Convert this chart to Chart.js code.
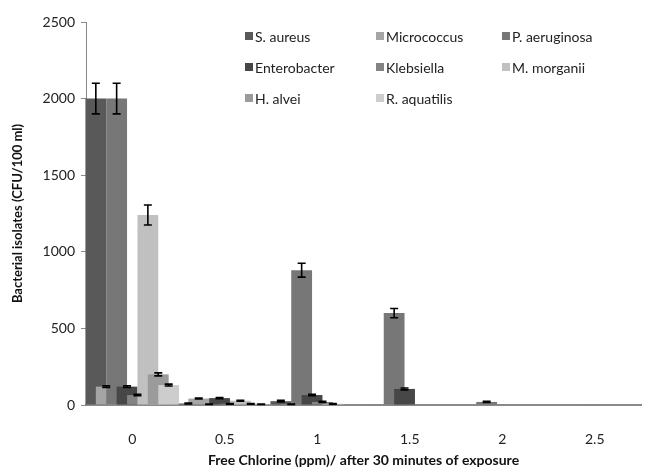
<!DOCTYPE html>
<html>
<head>
<meta charset="utf-8">
<script src="https://cdn.jsdelivr.net/npm/chart.js@4.4.0/dist/chart.umd.min.js"></script>
<style>
  html, body { margin: 0; padding: 0; background: #fff; }
  #wrap { width: 645px; height: 469px; }
</style>
</head>
<body>
<div id="wrap"><canvas id="canvas"></canvas></div>
<script>
// chlorine dose categories (ppm)
var doses = ['0', '0.5', '1', '1.5', '2', '2.5'];

var seriesNames = ['S. aureus', 'Micrococcus', 'P. aeruginosa', 'Enterobacter',
                   'Klebsiella', 'M. morganii', 'H. alvei', 'R. aquatilis'];

// CFU/100 ml
var sAureus      = [2000, 10, 25, 3, 0, 0];
var micrococcus  = [120, 42, 5, 0, 0, 0];
var pAeruginosa  = [2000, 5, 880, 600, 20, 0];
var enterobacter = [120, 45, 65, 105, 3, 3];
var klebsiella   = [65, 8, 20, 0, 0, 0];
var mMorganii    = [1240, 28, 8, 0, 0, 0];
var hAlvei       = [200, 8, 0, 0, 0, 0];
var rAquatilis   = [130, 5, 0, 0, 0, 0];

// +/- error
var errSAureus      = [100, 3, 5, 0, 0, 0];
var errMicrococcus  = [6, 3, 2, 0, 0, 0];
var errPAeruginosa  = [100, 2, 45, 30, 4, 0];
var errEnterobacter = [6, 4, 5, 6, 0, 0];
var errKlebsiella   = [5, 2, 4, 0, 0, 0];
var errMMorganii    = [65, 3, 2, 0, 0, 0];
var errHAlvei       = [10, 2, 0, 0, 0, 0];
var errRAquatilis   = [6, 2, 0, 0, 0, 0];

var yTicks = [0, 500, 1000, 1500, 2000, 2500];

var colors = ['#595959', '#a5a5a5', '#777777', '#474747', '#838383', '#c0c0c0', '#9b9b9b', '#cdcdcd'];

var values = [sAureus, micrococcus, pAeruginosa, enterobacter, klebsiella, mMorganii, hAlvei, rAquatilis];
var errors = [errSAureus, errMicrococcus, errPAeruginosa, errEnterobacter, errKlebsiella, errMMorganii, errHAlvei, errRAquatilis];

var FONT = 'Lato';

// Excel-style overlapping bars: draw series left to right so later ones sit on top,
// then the error bars over everything
var overlapBars = {
    id: 'overlapBars',
    beforeDatasetsDraw: function(chart) {
        var ctx = chart.ctx;
        chart.data.datasets.forEach(function(ds, i) {
            chart.getDatasetMeta(i).controller.draw();
        });
        var ys = chart.scales.y;
        ctx.save();
        ctx.strokeStyle = '#000';
        ctx.lineWidth = 1.6;
        chart.data.datasets.forEach(function(ds, i) {
            chart.getDatasetMeta(i).data.forEach(function(bar, j) {
                var e = errors[i][j];
                if (!e) return;
                var v = values[i][j];
                var top = ys.getPixelForValue(v + e);
                var bot = ys.getPixelForValue(Math.max(0, v - e));
                ctx.beginPath();
                ctx.moveTo(bar.x, top); ctx.lineTo(bar.x, bot);
                ctx.moveTo(bar.x - 4, top); ctx.lineTo(bar.x + 4, top);
                ctx.moveTo(bar.x - 4, bot); ctx.lineTo(bar.x + 4, bot);
                ctx.stroke();
            });
        });
        ctx.restore();
        return false;
    }
};

// three-column legend inside the plot
var gridLegend = {
    id: 'gridLegend',
    afterDraw: function(chart) {
        var ctx = chart.ctx;
        var colX = [245, 376, 502];
        var rowY = [36, 67, 98];
        ctx.save();
        ctx.font = '14px ' + FONT;
        ctx.textBaseline = 'middle';
        chart.data.datasets.forEach(function(ds, i) {
            var x = colX[i % 3], y = rowY[Math.floor(i / 3)];
            ctx.fillStyle = ds.backgroundColor;
            ctx.fillRect(x, y - 4, 8, 8);
            ctx.fillStyle = '#222';
            ctx.fillText(ds.label, x + 10, y + 1);
        });
        ctx.restore();
    }
};

try {
    var ctx = document.getElementById('canvas').getContext('2d');
    var myChart = new Chart(ctx, {
        type: 'bar',
        data: {
            labels: doses,
            datasets: seriesNames.map(function(name, i) {
                return {
                    label: name,
                    data: values[i],
                    backgroundColor: colors[i],
                    borderWidth: 0,
                    categoryPercentage: 0.9,
                    barPercentage: 2.0
                };
            })
        },
        plugins: [overlapBars, gridLegend],
        options: {
            responsive: true,
            maintainAspectRatio: false,
            animation: false,
            layout: { padding: { top: 22, right: 4, left: 0, bottom: 0 } },
            plugins: {
                legend: { display: false },
                tooltip: { enabled: false }
            },
            scales: {
                x: {
                    grid: { display: false },
                    border: { display: true, color: '#8a8a8a', width: 2 },
                    ticks: { color: '#222', font: { family: FONT, size: 14 }, padding: 18 },
                    title: {
                        display: true,
                        text: 'Free Chlorine (ppm)/ after 30 minutes of exposure',
                        color: '#111',
                        font: { family: FONT, size: 14, weight: 'bold' },
                        padding: { top: 6, bottom: 0 }
                    },
                    afterFit: function(s) { s.height = 64; }
                },
                y: {
                    min: 0,
                    max: 2500,
                    afterBuildTicks: function(s) {
                        s.ticks = yTicks.map(function(v) { return { value: v }; });
                    },
                    grid: { display: true, drawOnChartArea: false, tickLength: 5, color: '#8a8a8a' },
                    border: { display: true, color: '#8a8a8a', width: 1 },
                    ticks: {
                        color: '#222', font: { family: FONT, size: 14 }, padding: 6,
                        callback: function(v) { return String(v); }
                    },
                    title: {
                        display: true,
                        text: 'Bacterial isolates (CFU/100 ml)',
                        color: '#111',
                        font: { family: FONT, size: 13, weight: 'bold' },
                        padding: { top: 10, bottom: 4 }
                    },
                    afterFit: function(s) { s.width = 86; }
                }
            }
        }
    });
} catch (e) {
    console.log(e.message);
}
</script>
</body>
</html>
